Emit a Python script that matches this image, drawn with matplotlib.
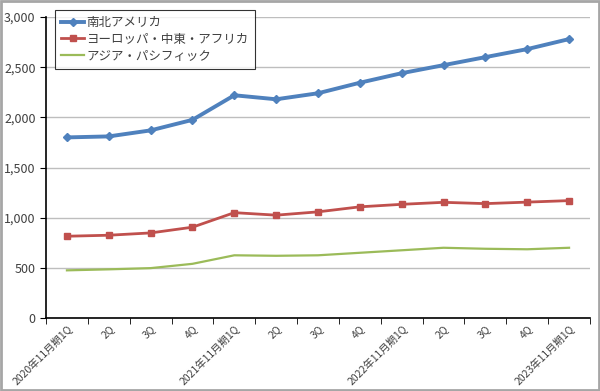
import matplotlib.pyplot as plt
from matplotlib.patches import Rectangle
from matplotlib.ticker import FuncFormatter

plt.rcParams['font.family'] = ['Noto Sans CJK JP', 'DejaVu Sans']

# --- data ---
quarters = [
    "2020年11月期1Q", "2Q", "3Q", "4Q",
    "2021年11月期1Q", "2Q", "3Q", "4Q",
    "2022年11月期1Q", "2Q", "3Q", "4Q",
    "2023年11月期1Q",
]
americas = [1800, 1810, 1870, 1975, 2220, 2180, 2240, 2345, 2440, 2520, 2600, 2680, 2780]
emea = [815, 825, 848, 905, 1050, 1025, 1058, 1108, 1133, 1153, 1140, 1155, 1170]
apac = [475, 485, 497, 540, 625, 620, 625, 650, 675, 700, 690, 685, 700]

series_names = ["南北アメリカ", "ヨーロッパ・中東・アフリカ", "アジア・パシフィック"]

TEXT_COLOR = '#404040'


def plot():
    fig = plt.figure(figsize=(6, 3.91), dpi=100)
    ax = fig.add_axes([0.0767, 0.1867, 0.9066, 0.7698])

    x = list(range(len(quarters)))
    ax.plot(x, americas, color='#4F81BD', lw=2.8, marker='D', ms=4.5,
            label=series_names[0], zorder=5)
    ax.plot(x, emea, color='#C0504D', lw=2.0, marker='s', ms=5,
            label=series_names[1], zorder=4)
    ax.plot(x, apac, color='#9BBB59', lw=1.6, label=series_names[2], zorder=3)

    ax.set_ylim(0, 3000)
    ax.set_yticks(range(0, 3001, 500))
    ax.yaxis.set_major_formatter(FuncFormatter(lambda v, p: f'{int(v):,}'))
    ax.grid(axis='y', color='#BEBEBE', lw=1, zorder=0)

    ax.set_xlim(-0.5, len(quarters) - 0.5)
    ax.set_xticks(x)
    ax.set_xticklabels(quarters, rotation=45, ha='right', rotation_mode='anchor',
                       fontsize=7.5, color=TEXT_COLOR)
    ax.set_xticks([i - 0.5 for i in range(len(quarters) + 1)], minor=True)
    ax.tick_params(axis='x', which='major', length=0, pad=4)
    ax.tick_params(axis='x', which='minor', length=4, direction='out', color='black')
    ax.tick_params(axis='y', length=4, direction='out', labelsize=9,
                   labelcolor=TEXT_COLOR, color='black')

    for s in ['top', 'right']:
        ax.spines[s].set_visible(False)
    for s in ['left', 'bottom']:
        ax.spines[s].set_color('black')
        ax.spines[s].set_linewidth(1.2)

    leg = fig.legend(loc='upper left', bbox_to_anchor=(0.092, 0.975),
                     fontsize=9, frameon=True, fancybox=False,
                     handlelength=1.8, handletextpad=0.2, borderpad=0.5,
                     labelspacing=0.3, borderaxespad=0)
    leg.get_frame().set_edgecolor('black')
    leg.get_frame().set_linewidth(0.8)
    for t in leg.get_texts():
        t.set_color(TEXT_COLOR)

    # outer grey border
    fig.patches.append(Rectangle((0.002, 0.003), 0.996, 0.994, transform=fig.transFigure,
                                 fill=False, edgecolor='#A6A6A6', lw=2))

    fig.savefig('out.png', dpi=100)


if __name__ == "__main__":
    plot()
